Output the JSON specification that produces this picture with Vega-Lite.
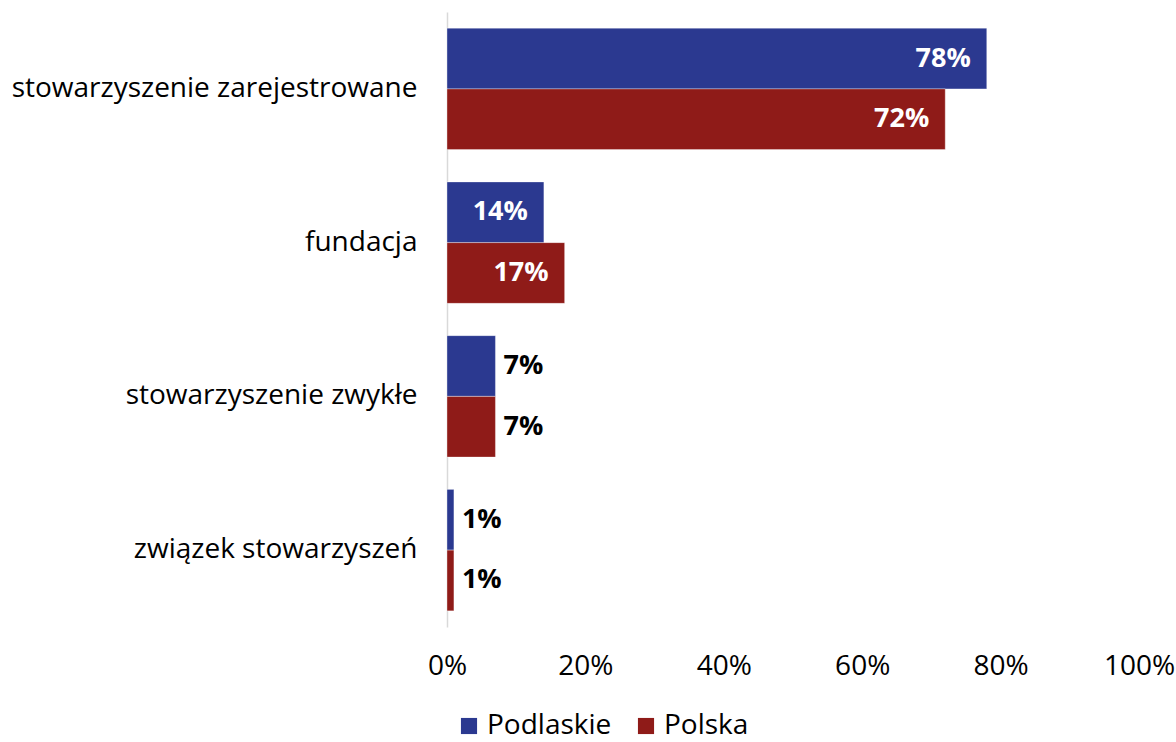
{
  "$schema": "https://vega.github.io/schema/vega-lite/v6.json",
  "autosize": {"type": "none"},
  "padding": {"left": 447, "top": 12, "right": 37, "bottom": 115},
  "width": 692,
  "height": 615,
  "config": {
    "view": {"stroke": null},
    "font": "Open Sans",
    "text": {"font": "Open Sans"}
  },
  "data": {
    "values": [
      {"kategoria": "stowarzyszenie zarejestrowane", "seria": "Podlaskie", "wartosc": 78},
      {"kategoria": "stowarzyszenie zarejestrowane", "seria": "Polska", "wartosc": 72},
      {"kategoria": "fundacja", "seria": "Podlaskie", "wartosc": 14},
      {"kategoria": "fundacja", "seria": "Polska", "wartosc": 17},
      {"kategoria": "stowarzyszenie zwykłe", "seria": "Podlaskie", "wartosc": 7},
      {"kategoria": "stowarzyszenie zwykłe", "seria": "Polska", "wartosc": 7},
      {"kategoria": "związek stowarzyszeń", "seria": "Podlaskie", "wartosc": 1},
      {"kategoria": "związek stowarzyszeń", "seria": "Polska", "wartosc": 1}
    ]
  },
  "encoding": {
    "y": {
      "field": "kategoria",
      "type": "nominal",
      "sort": null,
      "scale": {"paddingInner": 0.21, "paddingOuter": 0.105},
      "axis": {
        "title": null,
        "domainColor": "#D9D9D9",
        "domainWidth": 1.5,
        "ticks": false,
        "labelPadding": 30,
        "labelFontSize": 28,
        "labelFont": "Open Sans",
        "labelColor": "#000000",
        "labelLimit": 500
      }
    },
    "yOffset": {"field": "seria", "type": "nominal", "sort": ["Podlaskie", "Polska"]},
    "x": {
      "field": "wartosc",
      "type": "quantitative",
      "scale": {"domain": [0, 100]},
      "axis": {
        "title": null,
        "values": [0, 20, 40, 60, 80, 100],
        "labelExpr": "datum.value + '%'",
        "domain": false,
        "ticks": false,
        "grid": false,
        "labelPadding": 25,
        "labelFontSize": 28,
        "labelFont": "Open Sans",
        "labelColor": "#000000",
        "labelFlush": false
      }
    }
  },
  "layer": [
    {
      "mark": {"type": "bar", "stroke": "#ffffff", "strokeOpacity": 0.35, "strokeWidth": 1},
      "encoding": {
        "color": {
          "field": "seria",
          "type": "nominal",
          "sort": ["Podlaskie", "Polska"],
          "scale": {"domain": ["Podlaskie", "Polska"], "range": ["#2B3990", "#8F1B18"]},
          "legend": {
            "title": null,
            "orient": "none",
            "direction": "horizontal",
            "legendX": 8,
            "legendY": 700,
            "symbolType": "square",
            "symbolSize": 260,
            "symbolStrokeWidth": 0,
            "labelFontSize": 28,
            "labelFont": "Open Sans",
            "labelColor": "#000000",
            "columnPadding": 20,
            "labelOffset": 4,
            "labelLimit": 300
          }
        }
      }
    },
    {
      "transform": [{"filter": "datum.wartosc >= 10"}],
      "mark": {"type": "text", "align": "right", "dx": -16, "fontSize": 27, "fontWeight": "bold", "color": "#ffffff", "baseline": "middle", "text": {"expr": "datum.wartosc + '%'"}}
    },
    {
      "transform": [{"filter": "datum.wartosc < 10"}],
      "mark": {"type": "text", "align": "left", "dx": 8, "fontSize": 27, "fontWeight": "bold", "color": "#000000", "baseline": "middle", "text": {"expr": "datum.wartosc + '%'"}}
    }
  ]
}
